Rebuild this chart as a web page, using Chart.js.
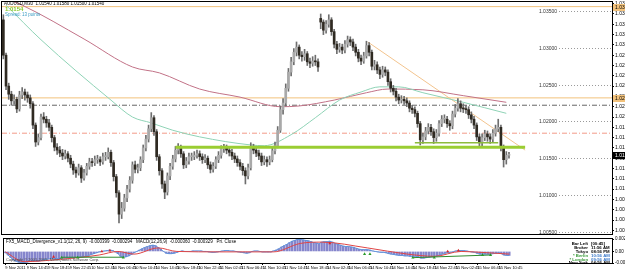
<!DOCTYPE html>
<html>
<head>
<meta charset="utf-8">
<script src="https://cdn.jsdelivr.net/npm/chart.js@4.4.1/dist/chart.umd.min.js"></script>
<style>
html, body { margin: 0; padding: 0; background: #fff; }
#wrap { position: relative; width: 625px; height: 271px; overflow: hidden; }
#priceChart { position: absolute; left: 0; top: 0; }
#macdChart { position: absolute; left: 0; top: 235px; }
</style>
</head>
<body>
<div id="wrap">
  <canvas id="priceChart" width="625" height="235"></canvas>
  <canvas id="macdChart" width="625" height="36"></canvas>
</div>
<script>
// ---- price data (M30 bars) ----
const opens = [
  1.0338,1.0290,1.0248,1.0237,1.0228,1.0230,1.0217,1.0236,1.0240,1.0236,
  1.0232,1.0224,1.0195,1.0172,1.0178,1.0206,1.0203,1.0198,1.0192,1.0178,
  1.0165,1.0161,1.0157,1.0153,1.0156,1.0150,1.0142,1.0134,1.0130,1.0137,
  1.0123,1.0130,1.0139,1.0145,1.0144,1.0148,1.0148,1.0145,1.0152,1.0152,
  1.0158,1.0144,1.0125,1.0103,1.0074,1.0082,1.0096,1.0108,1.0120,1.0141,
  1.0135,1.0137,1.0148,1.0164,1.0176,1.0190,1.0205,1.0186,1.0152,1.0133,
  1.0115,1.0104,1.0126,1.0139,1.0149,1.0161,1.0164,1.0156,1.0141,1.0146,
  1.0152,1.0152,1.0154,1.0156,1.0152,1.0148,1.0150,1.0141,1.0135,1.0139,
  1.0148,1.0154,1.0163,1.0164,1.0161,1.0158,1.0153,1.0149,1.0144,1.0139,
  1.0133,1.0126,1.0137,1.0165,1.0161,1.0157,1.0153,1.0145,1.0148,1.0145,
  1.0148,1.0160,1.0167,1.0188,1.0216,1.0225,1.0245,1.0267,1.0281,1.0294,
  1.0301,1.0290,1.0288,1.0292,1.0281,1.0279,1.0282,1.0281,1.0340,1.0335,
  1.0324,1.0332,1.0338,1.0322,1.0305,1.0298,1.0301,1.0297,1.0305,1.0311,
  1.0308,1.0301,1.0294,1.0286,1.0282,1.0289,1.0303,1.0294,1.0275,1.0277,
  1.0270,1.0264,1.0270,1.0267,1.0254,1.0245,1.0241,1.0233,1.0229,1.0230,
  1.0228,1.0225,1.0218,1.0216,1.0211,1.0197,1.0175,1.0179,1.0187,1.0192,
  1.0186,1.0178,1.0184,1.0197,1.0203,1.0203,1.0197,1.0194,1.0210,1.0218,
  1.0224,1.0218,1.0217,1.0216,1.0209,1.0203,1.0195,1.0179,1.0171,1.0178,
  1.0183,1.0179,1.0176,1.0184,1.0190,1.0192,1.0165,1.0148,1.0154
];
const highs = [
  1.0345,1.0293,1.0252,1.0241,1.0236,1.0233,1.0241,1.0246,1.0244,1.0240,
  1.0236,1.0227,1.0198,1.0183,1.0210,1.0212,1.0207,1.0203,1.0195,1.0181,
  1.0170,1.0166,1.0162,1.0161,1.0159,1.0154,1.0146,1.0138,1.0142,1.0140,
  1.0135,1.0143,1.0150,1.0150,1.0153,1.0154,1.0152,1.0157,1.0158,1.0164,
  1.0161,1.0147,1.0128,1.0106,1.0090,1.0101,1.0113,1.0125,1.0145,1.0146,
  1.0142,1.0152,1.0168,1.0181,1.0195,1.0212,1.0208,1.0189,1.0155,1.0136,
  1.0119,1.0130,1.0143,1.0154,1.0166,1.0170,1.0168,1.0159,1.0151,1.0157,
  1.0157,1.0159,1.0161,1.0160,1.0156,1.0155,1.0153,1.0145,1.0144,1.0152,
  1.0159,1.0167,1.0169,1.0168,1.0165,1.0162,1.0157,1.0153,1.0148,1.0143,
  1.0137,1.0142,1.0171,1.0169,1.0165,1.0161,1.0157,1.0153,1.0152,1.0153,
  1.0165,1.0172,1.0193,1.0221,1.0231,1.0251,1.0272,1.0287,1.0299,1.0308,
  1.0304,1.0295,1.0298,1.0295,1.0286,1.0288,1.0290,1.0285,1.0346,1.0338,
  1.0337,1.0345,1.0341,1.0325,1.0309,1.0306,1.0305,1.0310,1.0316,1.0315,
  1.0312,1.0305,1.0298,1.0290,1.0294,1.0309,1.0307,1.0297,1.0283,1.0281,
  1.0274,1.0275,1.0274,1.0270,1.0258,1.0249,1.0245,1.0237,1.0235,1.0234,
  1.0232,1.0228,1.0222,1.0220,1.0214,1.0200,1.0184,1.0192,1.0197,1.0196,
  1.0190,1.0189,1.0201,1.0208,1.0209,1.0207,1.0201,1.0214,1.0223,1.0231,
  1.0228,1.0224,1.0222,1.0220,1.0213,1.0207,1.0198,1.0183,1.0183,1.0188,
  1.0187,1.0183,1.0189,1.0195,1.0203,1.0195,1.0168,1.0159,1.0158
];
const lows = [
  1.0285,1.0243,1.0230,1.0222,1.0223,1.0212,1.0214,1.0231,1.0229,1.0226,
  1.0218,1.0190,1.0166,1.0168,1.0175,1.0198,1.0192,1.0187,1.0172,1.0160,
  1.0155,1.0152,1.0148,1.0149,1.0145,1.0137,1.0128,1.0124,1.0127,1.0117,
  1.0120,1.0127,1.0135,1.0139,1.0140,1.0143,1.0140,1.0142,1.0147,1.0149,
  1.0139,1.0119,1.0097,1.0062,1.0068,1.0078,1.0091,1.0104,1.0116,1.0130,
  1.0130,1.0133,1.0144,1.0160,1.0172,1.0186,1.0181,1.0147,1.0127,1.0109,
  1.0095,1.0100,1.0121,1.0135,1.0145,1.0156,1.0151,1.0136,1.0137,1.0142,
  1.0147,1.0148,1.0150,1.0147,1.0143,1.0144,1.0136,1.0130,1.0131,1.0136,
  1.0144,1.0150,1.0158,1.0156,1.0153,1.0148,1.0144,1.0139,1.0134,1.0127,
  1.0115,1.0122,1.0134,1.0156,1.0152,1.0148,1.0140,1.0141,1.0139,1.0141,
  1.0145,1.0156,1.0164,1.0185,1.0210,1.0221,1.0241,1.0262,1.0277,1.0289,
  1.0285,1.0282,1.0283,1.0276,1.0273,1.0275,1.0276,1.0268,1.0326,1.0318,
  1.0320,1.0328,1.0317,1.0300,1.0292,1.0294,1.0292,1.0293,1.0301,1.0303,
  1.0296,1.0289,1.0281,1.0277,1.0279,1.0286,1.0289,1.0270,1.0270,1.0265,
  1.0258,1.0260,1.0262,1.0249,1.0240,1.0236,1.0228,1.0224,1.0225,1.0223,
  1.0220,1.0213,1.0211,1.0206,1.0192,1.0168,1.0170,1.0175,1.0183,1.0181,
  1.0170,1.0173,1.0180,1.0193,1.0198,1.0192,1.0188,1.0190,1.0206,1.0214,
  1.0213,1.0212,1.0211,1.0204,1.0198,1.0190,1.0174,1.0165,1.0167,1.0174,
  1.0173,1.0170,1.0172,1.0180,1.0186,1.0160,1.0138,1.0142,1.0150
];
const closes = [
  1.0290,1.0248,1.0237,1.0228,1.0230,1.0217,1.0236,1.0240,1.0236,1.0232,
  1.0224,1.0195,1.0172,1.0178,1.0206,1.0203,1.0198,1.0192,1.0178,1.0165,
  1.0161,1.0157,1.0153,1.0156,1.0150,1.0142,1.0134,1.0130,1.0137,1.0123,
  1.0130,1.0139,1.0145,1.0144,1.0148,1.0148,1.0145,1.0152,1.0152,1.0158,
  1.0144,1.0125,1.0103,1.0074,1.0082,1.0096,1.0108,1.0120,1.0141,1.0135,
  1.0137,1.0148,1.0164,1.0176,1.0190,1.0205,1.0186,1.0152,1.0133,1.0115,
  1.0104,1.0126,1.0139,1.0149,1.0161,1.0164,1.0156,1.0141,1.0146,1.0152,
  1.0152,1.0154,1.0156,1.0152,1.0148,1.0150,1.0141,1.0135,1.0139,1.0148,
  1.0154,1.0163,1.0164,1.0161,1.0158,1.0153,1.0149,1.0144,1.0139,1.0133,
  1.0126,1.0137,1.0165,1.0161,1.0157,1.0153,1.0145,1.0148,1.0145,1.0148,
  1.0160,1.0167,1.0188,1.0216,1.0225,1.0245,1.0267,1.0281,1.0294,1.0301,
  1.0290,1.0288,1.0292,1.0281,1.0279,1.0282,1.0281,1.0274,1.0335,1.0324,
  1.0332,1.0338,1.0322,1.0305,1.0298,1.0301,1.0297,1.0305,1.0311,1.0308,
  1.0301,1.0294,1.0286,1.0282,1.0289,1.0303,1.0294,1.0275,1.0277,1.0270,
  1.0264,1.0270,1.0267,1.0254,1.0245,1.0241,1.0233,1.0229,1.0230,1.0228,
  1.0225,1.0218,1.0216,1.0211,1.0197,1.0175,1.0179,1.0187,1.0192,1.0186,
  1.0178,1.0184,1.0197,1.0203,1.0203,1.0197,1.0194,1.0210,1.0218,1.0224,
  1.0218,1.0217,1.0216,1.0209,1.0203,1.0195,1.0179,1.0171,1.0178,1.0183,
  1.0179,1.0176,1.0184,1.0190,1.0192,1.0165,1.0148,1.0154,1.0154
];

// moving averages (sparse readings, bar index -> price)
const tealMaBars = [1, 14, 40, 48, 55, 63, 73, 92, 97, 107, 116, 125, 133, 140, 147, 156, 171, 187];
const tealMaValues = [1.0358, 1.0311, 1.0229, 1.0206, 1.0198, 1.0188, 1.0179, 1.0168, 1.0167, 1.0182, 1.0205, 1.0229, 1.0240, 1.0247, 1.0247, 1.0239, 1.0226, 1.0211];
const redMaBars = [0, 7, 30, 48, 58, 73, 88, 103, 110, 123, 135, 143, 156, 171, 187];
const redMaValues = [1.0368, 1.0358, 1.0312, 1.0274, 1.0266, 1.0244, 1.0233, 1.0220, 1.0221, 1.0229, 1.0239, 1.0244, 1.0243, 1.0235, 1.0226];

// drawn objects
const topLevel = 1.0356;
const orangeLevel = 1.0232;
const grayLevel = 1.0222;
const salmonLevel = 1.0184;
const supportBars = [64, 194];
const supportLevel = 1.0165;
const innerSupportBars = [153, 184];
const innerSupportLevel = 1.0171;
const trendBars = [135.5, 194];
const trendValues = [1.0308, 1.0161];
const roundLevels = [1.035, 1.030, 1.025, 1.020, 1.015, 1.010, 1.005];

const priceTicks = [1.0360, 1.0346, 1.0332, 1.0318, 1.0304, 1.0290, 1.0276, 1.0262, 1.0248, 1.0234, 1.0220, 1.0206,
  1.0192, 1.0178, 1.0164, 1.0150, 1.0136, 1.0122, 1.0108, 1.0094, 1.0080, 1.0066, 1.0052];

const timeLabelBars = [0, 8, 16, 24, 32, 40, 48, 56, 64, 72, 80, 88, 96, 104, 112, 120, 128, 136, 144, 152, 160, 168, 176, 184];
const timeLabels = ['9 Nov 2011', '9 Nov 14:45', '9 Nov 18:45', '9 Nov 22:45', '10 Nov 02:45', '10 Nov 06:45',
  '10 Nov 10:45', '10 Nov 14:45', '10 Nov 18:45', '10 Nov 22:45', '11 Nov 02:45', '11 Nov 06:45', '11 Nov 10:45',
  '11 Nov 14:45', '11 Nov 18:45', '14 Nov 02:45', '14 Nov 06:45', '14 Nov 10:45', '14 Nov 14:45', '14 Nov 18:45',
  '14 Nov 22:45', '15 Nov 02:45', '15 Nov 06:45', '15 Nov 10:45'];

// ---- MACD sub window ----
const macdValues = [
  -0.0003,-0.0008,-0.0014,-0.0019,-0.0022,-0.0024,-0.0025,-0.0025,-0.0024,-0.0023,
  -0.0022,-0.0021,-0.0022,-0.0021,-0.0019,-0.0018,-0.0017,-0.0016,-0.0016,-0.0016,
  -0.0016,-0.0015,-0.0015,-0.0014,-0.0014,-0.0014,-0.0014,-0.0013,-0.0012,-0.0012,
  -0.0011,-0.0009,-0.0007,-0.0005,-0.0003,-0.0001,0.0000,0.0001,0.0002,0.0003,
  0.0002,-0.0001,-0.0005,-0.0011,-0.0013,-0.0012,-0.0010,-0.0007,-0.0003,0.0000,
  0.0003,0.0006,0.0009,0.0011,0.0013,0.0014,0.0013,0.0009,0.0005,0.0000,
  -0.0004,-0.0005,-0.0005,-0.0004,-0.0002,0.0000,0.0001,0.0000,0.0000,0.0000,
  0.0001,0.0001,0.0001,0.0001,0.0000,0.0000,-0.0001,-0.0002,-0.0002,-0.0001,
  0.0000,0.0001,0.0002,0.0002,0.0001,0.0001,0.0000,-0.0001,-0.0002,-0.0003,
  -0.0004,-0.0003,0.0000,0.0001,0.0001,0.0000,-0.0001,-0.0001,-0.0001,-0.0001,
  0.0001,0.0003,0.0006,0.0010,0.0013,0.0016,0.0020,0.0023,0.0025,0.0027,
  0.0027,0.0026,0.0025,0.0024,0.0022,0.0020,0.0019,0.0017,0.0021,0.0022,
  0.0022,0.0023,0.0021,0.0018,0.0016,0.0014,0.0012,0.0011,0.0011,0.0010,
  0.0009,0.0007,0.0005,0.0004,0.0004,0.0004,0.0003,0.0001,0.0000,-0.0001,
  -0.0002,-0.0002,-0.0003,-0.0005,-0.0006,-0.0007,-0.0008,-0.0009,-0.0009,-0.0010,
  -0.0010,-0.0011,-0.0011,-0.0011,-0.0012,-0.0015,-0.0015,-0.0014,-0.0013,-0.0012,
  -0.0012,-0.0010,-0.0008,-0.0006,-0.0004,-0.0003,-0.0002,-0.0001,0.0001,0.0002,
  0.0002,0.0002,0.0001,0.0000,-0.0001,-0.0002,-0.0004,-0.0006,-0.0006,-0.0006,
  -0.0006,-0.0006,-0.0005,-0.0004,-0.0003,-0.0005,-0.0008,-0.0009,-0.0009
];
const signalBars = [0, 7, 20, 35, 42, 48, 57, 64, 80, 100, 110, 118, 135, 150, 160, 170, 180, 188];
const signalValues = [-0.0001, -0.0023, -0.0018, -0.0008, 0.0000, -0.0006, 0.0008, 0.0000, -0.0001, -0.0001, 0.0018, 0.0021, 0.0008, -0.0006, -0.0011, 0.0000, -0.0003, -0.0006];
const redMarkBars = [18, 36, 39, 121, 165, 169];
const redMarkValues = [-0.0012, 0.0000, 0.0002, 0.0018, 0.0000, 0.0002];
const greenMarkBars = [21, 27, 44, 134, 136, 152, 160, 178, 181];
const greenMarkValues = [-0.0014, -0.0014, -0.0014, -0.0006, -0.0006, -0.0014, -0.0014, -0.0008, -0.0008];
const divBarsA = [21, 44];
const divValuesA = [-0.0013, -0.0013];
const divBarsB = [152, 181];
const divValuesB = [-0.0014, -0.0008];
const macdMax = 0.0028;
const macdMin = -0.0026;

const infoLabels = ['Bar Left', 'Broker', 'Tokyo', '* Berlin', '* London', 'New York'];
const infoValues = ['[00:45]', '11:56 AM', '08:56 PM', '10:56 AM', '09:56 AM', '04:56 AM'];

// ---- helpers ----
const X_MIN = -0.5;
const X_MAX = 226.3;
const FONT = '"Liberation Sans", Arial, sans-serif';
const NARROW = '"Liberation Sans Narrow", "Liberation Sans", Arial, sans-serif';
const barIndex = closes.map((c, i) => i);
const pts = (bars, vals) => bars.map((b, k) => ({ x: b, y: vals[k] }));
const flat = level => [{ x: X_MIN, y: level }, { x: X_MAX, y: level }];
const lineSet = (data, color, width, extra) => Object.assign({
  type: 'line', data: data, borderColor: color, borderWidth: width,
  pointRadius: 0, fill: false, order: 3
}, extra || {});

const priceOverlay = {
  id: 'priceOverlay',
  afterDraw(chart) {
    const { ctx, chartArea: a, scales: { y } } = chart;
    ctx.save();
    ctx.strokeStyle = '#000';
    ctx.lineWidth = 1;
    ctx.strokeRect(a.left - 0.5, a.top - 0.5, a.right - a.left + 1, a.bottom - a.top + 1);

    // round number labels with short dotted lines
    ctx.font = '5px ' + FONT;
    ctx.textBaseline = 'middle';
    roundLevels.forEach(v => {
      const py = Math.round(y.getPixelForValue(v)) + 0.5;
      ctx.fillStyle = '#333';
      ctx.textAlign = 'right';
      ctx.fillText(v.toFixed(5), a.right - 55, py);
      ctx.strokeStyle = '#9a9a9a';
      ctx.setLineDash([1, 2]);
      ctx.beginPath();
      ctx.moveTo(a.right - 53, py);
      ctx.lineTo(a.right - 1, py);
      ctx.stroke();
    });
    ctx.setLineDash([]);

    // highlighted axis labels
    const marks = [
      { v: topLevel, bg: '#f2c27c', fg: '#000' },
      { v: orangeLevel, bg: '#f2c27c', fg: '#000' },
      { v: closes[closes.length - 1], bg: '#000', fg: '#fff' }
    ];
    ctx.textAlign = 'left';
    marks.forEach(m => {
      const py = Math.round(y.getPixelForValue(m.v));
      ctx.fillStyle = m.bg;
      ctx.fillRect(a.right + 1, py - 3, chart.width - a.right, 7);
      ctx.fillStyle = m.fg;
      ctx.fillText(m.v.toFixed(5), a.right + 3, py + 0.5);
    });

    // top-left info
    ctx.textBaseline = 'top';
    ctx.fillStyle = '#000';
    ctx.font = '4.5px ' + FONT;
    ctx.fillText('AUDUSD,M30  1.01540 1.01580 1.01500 1.01540', a.left + 2, a.top);
    ctx.fillStyle = '#86c92c';
    ctx.font = 'bold 6px ' + FONT;
    ctx.fillText('1.0154', a.left + 3, a.top + 4);
    ctx.fillStyle = '#3a9cc4';
    ctx.font = '4.5px ' + FONT;
    ctx.fillText('Spread: 13 points', a.left + 3, a.top + 11);
    ctx.restore();
  }
};

const macdOverlay = {
  id: 'macdOverlay',
  afterDraw(chart) {
    const { ctx, chartArea: a } = chart;
    ctx.save();
    ctx.strokeStyle = '#000';
    ctx.lineWidth = 1;
    ctx.strokeRect(a.left - 0.5, a.top - 0.5, a.right - a.left + 1, a.bottom - a.top + 1);
    ctx.textBaseline = 'top';
    ctx.textAlign = 'left';
    ctx.fillStyle = '#000';
    ctx.font = '4.5px ' + FONT;
    ctx.fillText('FX5_MACD_Divergence_v1.1(12, 26, 9)  -0.000399  -0.000294   MACD(12,26,9)  -0.000360  -0.000329   Pri. Close', a.left + 2, a.top + 1);
    ctx.fillStyle = '#444';
    ctx.font = '4px ' + FONT;
    ctx.fillText('Copyright \u00a9 2001-2009, MetaQuotes Software Corp.', a.left + 2, a.bottom - 5);

    // info block
    ctx.font = 'bold 4.3px ' + FONT;
    const labelColors = ['#000', '#000', '#000', '#3a9a3a', '#3a9a3a', '#000'];
    const valueColors = ['#000', '#000', '#000', '#3a78c8', '#3a78c8', '#000'];
    infoLabels.forEach((t, k) => {
      const ty = a.top + 3 + k * 3.8;
      ctx.textAlign = 'right';
      ctx.fillStyle = labelColors[k];
      ctx.fillText(t, a.right - 24, ty);
      ctx.textAlign = 'left';
      ctx.fillStyle = valueColors[k];
      ctx.fillText(infoValues[k], a.right - 21, ty);
    });
    ctx.restore();
  }
};

Chart.defaults.font.family = FONT;
Chart.defaults.color = '#000';

// ---- main price chart ----
new Chart(document.getElementById('priceChart'), {
  type: 'bar',
  data: {
    datasets: [
      lineSet(pts(supportBars, [supportLevel, supportLevel]), '#9acd32', 3, { order: 0 }),
      {
        type: 'bar', grouped: false, order: 1,
        data: barIndex.map(i => ({ x: i, y: [opens[i], closes[i]] })),
        backgroundColor: barIndex.map(i => closes[i] >= opens[i] ? '#a9a9a9' : '#2f2a22'),
        barThickness: 2, minBarLength: 1
      },
      {
        type: 'bar', grouped: false, order: 2,
        data: barIndex.map(i => ({ x: i, y: [lows[i], highs[i]] })),
        backgroundColor: '#6e6e6e',
        barThickness: 1
      },
      lineSet(pts(innerSupportBars, [innerSupportLevel, innerSupportLevel]), '#8dbb3c', 1.5, { order: 0 }),
      lineSet(pts(tealMaBars, tealMaValues), '#8fd3b6', 1, { cubicInterpolationMode: 'monotone' }),
      lineSet(pts(redMaBars, redMaValues), '#c27287', 1, { cubicInterpolationMode: 'monotone' }),
      lineSet(pts(trendBars, trendValues), '#f3c48e', 1),
      lineSet(flat(topLevel), '#f2c27c', 1),
      lineSet(flat(orangeLevel), '#f2c27c', 1),
      lineSet(flat(grayLevel), '#666666', 1, { borderDash: [5, 2, 1, 2] }),
      lineSet(flat(salmonLevel), '#f29a88', 1, { borderDash: [5, 2, 1, 2] })
    ]
  },
  options: {
    responsive: false,
    animation: false,
    devicePixelRatio: 1,
    events: [],
    layout: { padding: { left: 2, top: 2, right: 0, bottom: 1 } },
    plugins: { legend: { display: false }, tooltip: { enabled: false } },
    scales: {
      x: { type: 'linear', min: X_MIN, max: X_MAX, offset: false, display: false, grid: { offset: false } },
      y: {
        position: 'right', min: 1.0047, max: 1.03623,
        afterBuildTicks(s) { s.ticks = priceTicks.map(v => ({ value: v })); },
        afterFit(s) { s.width = 13; s.paddingTop = 0; s.paddingBottom = 0; },
        ticks: { font: { size: 5 }, color: '#000', padding: 1, callback: v => v.toFixed(5) },
        grid: { drawOnChartArea: false, tickLength: 2, color: '#000' },
        border: { color: '#000' }
      }
    }
  },
  plugins: [priceOverlay]
});

// ---- MACD window + time axis ----
new Chart(document.getElementById('macdChart'), {
  type: 'bar',
  data: {
    datasets: [
      {
        type: 'scatter', order: 0, data: pts(redMarkBars, redMarkValues),
        pointStyle: 'triangle', pointRadius: 1.8, backgroundColor: '#d8282a', borderWidth: 0
      },
      {
        type: 'scatter', order: 0, data: pts(greenMarkBars, greenMarkValues),
        pointStyle: 'triangle', pointRadius: 1.8, backgroundColor: '#2a9a2a', borderWidth: 0
      },
      lineSet(pts(divBarsA, divValuesA), '#2e8b2e', 1, { order: 1 }),
      lineSet(pts(divBarsB, divValuesB), '#2e8b2e', 1, { order: 1 }),
      lineSet(pts(signalBars, signalValues), '#e04545', 1, { order: 1, cubicInterpolationMode: 'monotone' }),
      lineSet(barIndex.map(i => ({ x: i, y: macdValues[i] })), '#5f95dc', 1, { order: 2 }),
      {
        type: 'bar', grouped: false, order: 3,
        data: barIndex.map(i => ({ x: i, y: macdValues[i] })),
        backgroundColor: '#8585cc',
        barThickness: 1.7
      }
    ]
  },
  options: {
    responsive: false,
    animation: false,
    devicePixelRatio: 1,
    events: [],
    layout: { padding: { left: 2, top: 1, right: 0, bottom: 0 } },
    plugins: { legend: { display: false }, tooltip: { enabled: false } },
    scales: {
      x: {
        type: 'linear', min: X_MIN, max: X_MAX, offset: false, position: 'bottom',
        afterBuildTicks(s) { s.ticks = timeLabelBars.map(v => ({ value: v })); },
        afterFit(s) { s.height = 8; s.paddingLeft = 0; s.paddingRight = 0; },
        ticks: {
          autoSkip: false, maxRotation: 0, minRotation: 0, align: 'start', padding: 0,
          font: { size: 4, family: NARROW }, color: '#000',
          callback: (v, i) => timeLabels[i]
        },
        grid: { drawOnChartArea: false, tickLength: 2, color: '#000', offset: false },
        border: { color: '#000' }
      },
      y: {
        position: 'right', min: macdMin, max: macdMax,
        afterBuildTicks(s) { s.ticks = [macdMax, 0, macdMin].map(v => ({ value: v })); },
        afterFit(s) { s.width = 13; s.paddingTop = 0; s.paddingBottom = 0; },
        ticks: { font: { size: 4.5 }, color: '#000', padding: 1, callback: v => v === 0 ? '0.00' : v.toFixed(6) },
        grid: { drawOnChartArea: false, tickLength: 2, color: '#000' },
        border: { color: '#000' }
      }
    }
  },
  plugins: [macdOverlay]
});
</script>
</body>
</html>
